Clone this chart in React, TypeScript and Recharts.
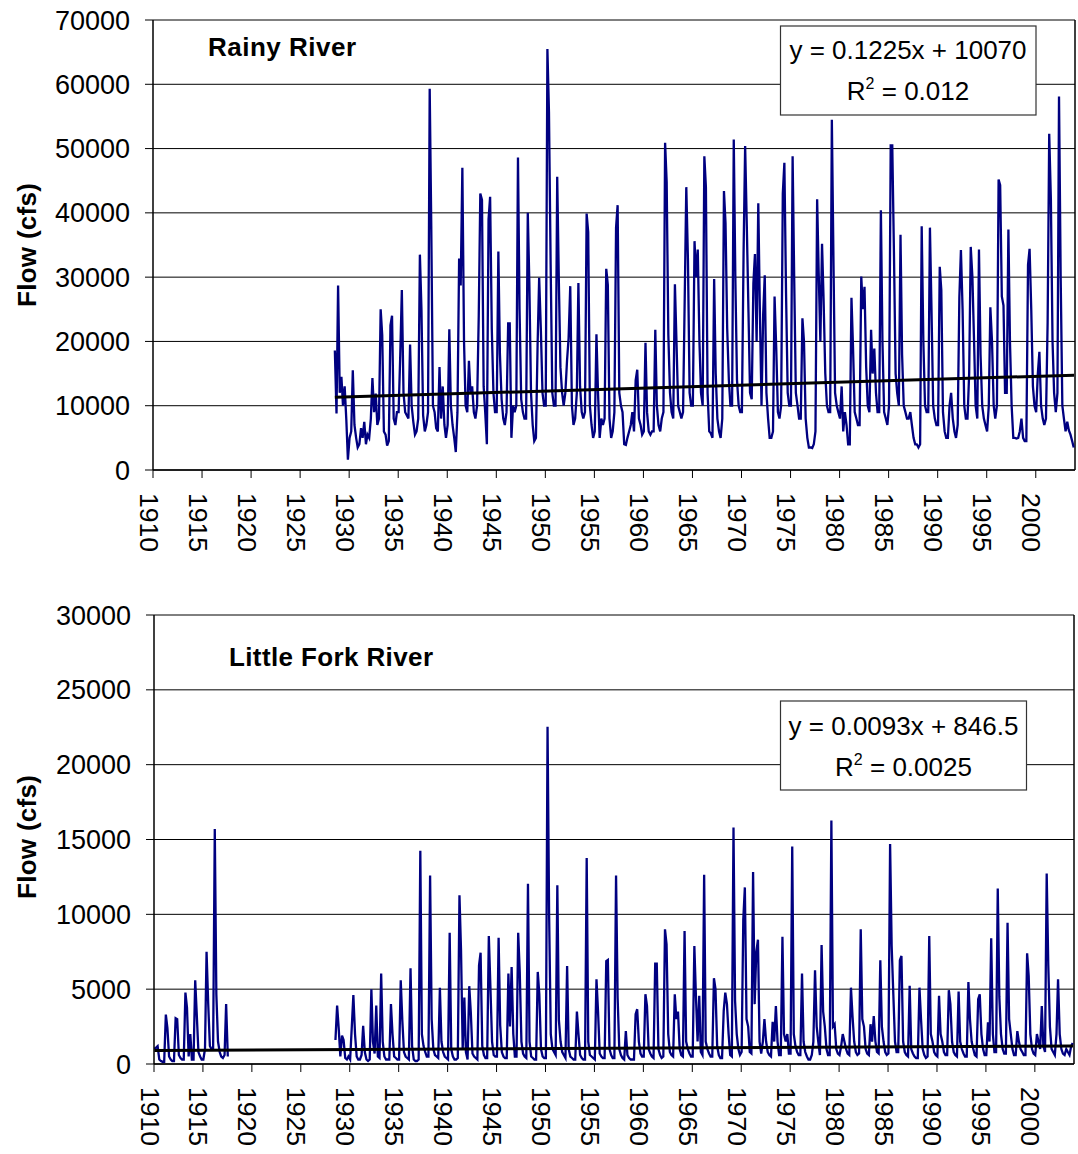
import React from 'react'
import { LineChart, Line, XAxis, YAxis, CartesianGrid, ReferenceLine } from 'recharts'

// monthly flow is sampled every two months: Jan, Mar, May, Jul, Sep, Nov
const SAMPLE_OFFSETS = [0.04, 0.21, 0.37, 0.54, 0.71, 0.87]
const YEAR_TICKS = [1910, 1915, 1920, 1925, 1930, 1935, 1940, 1945, 1950, 1955, 1960, 1965, 1970, 1975, 1980, 1985, 1990, 1995, 2000]
const RAINY_TICKS = [0, 10000, 20000, 30000, 40000, 50000, 60000, 70000]
const LITTLE_FORK_TICKS = [0, 5000, 10000, 15000, 20000, 25000, 30000]

type Row = (number | null)[]

// Rainy River, one row per year (cfs)
const rainy1920s: Row[] = [
  [null, null, null, 18600, 8800, 28700],
  [12000, 14500, 10000, 13000, 7800, 1600],
]
const rainy1930s: Row[] = [
  [5000, 6000, 15500, 7000, 5000, 3500],
  [4000, 6500, 5000, 7500, 4000, 5500],
  [5000, 8000, 14300, 9000, 11900, 7000],
  [8000, 25000, 21000, 6000, 5500, 3800],
  [4500, 22500, 24000, 8000, 7000, 9000],
  [9000, 18000, 28000, 12000, 9000, 8500],
  [8000, 19500, 10000, 7500, 5500, 6000],
  [8000, 33500, 25000, 8500, 6000, 7000],
  [9000, 59300, 38000, 10000, 9000, 6500],
  [6000, 16000, 8000, 13000, 7000, 5000],
]
const rainy1940s: Row[] = [
  [7000, 21900, 10000, 7000, 5000, 2800],
  [9000, 32900, 28700, 47000, 20000, 10000],
  [9000, 17000, 12000, 13000, 9000, 8000],
  [10000, 24000, 43000, 42000, 13000, 9000],
  [4000, 39000, 42500, 22000, 12000, 9000],
  [9000, 34000, 18000, 11000, 8000, 7000],
  [9000, 22800, 22800, 5000, 10000, 9000],
  [10000, 48600, 25000, 11000, 9000, 8000],
  [8000, 40000, 29000, 12000, 7000, 4500],
  [5000, 19400, 29900, 22000, 12000, 10000],
]
const rainy1950s: Row[] = [
  [10000, 65500, 55700, 32000, 12000, 10000],
  [10000, 45600, 30000, 16000, 12000, 10000],
  [12000, 17000, 20500, 28600, 10000, 7000],
  [8000, 12000, 29100, 13000, 9000, 8000],
  [9000, 39900, 37000, 10000, 7000, 5000],
  [6000, 21100, 12000, 5000, 8000, 7000],
  [8000, 31300, 28800, 8000, 5000, 6000],
  [9000, 37700, 41200, 12000, 10000, 9000],
  [4000, 3900, 5000, 6000, 7000, 9000],
  [6000, 14000, 15600, 8000, 7000, 5500],
]
const rainy1960s: Row[] = [
  [6000, 19800, 9000, 6000, 5500, 6000],
  [6000, 21800, 10000, 7000, 6000, 8000],
  [9000, 50900, 44800, 21000, 12000, 9000],
  [8000, 28900, 20000, 10000, 9000, 8000],
  [9000, 26700, 44000, 32600, 12000, 10000],
  [10000, 35600, 30000, 34300, 20000, 12000],
  [10000, 48800, 44000, 12000, 6000, 5700],
  [5000, 29700, 15000, 8000, 6000, 5000],
  [8000, 43400, 38400, 22000, 14000, 10000],
  [10000, 51400, 30000, 14000, 10000, 9000],
]
const rainy1970s: Row[] = [
  [9000, 33700, 50400, 38000, 24600, 12000],
  [11000, 29000, 33600, 20000, 41500, 25000],
  [10000, 24300, 30300, 12000, 8000, 5000],
  [5000, 6000, 27000, 19000, 9000, 8000],
  [10000, 43000, 47800, 27500, 12000, 10000],
  [10000, 48800, 30000, 12000, 10000, 8000],
  [8000, 23600, 20000, 8000, 5000, 3500],
  [3500, 3400, 4000, 6000, 42100, 30600],
  [20000, 35200, 26400, 15000, 10000, 9000],
  [9000, 54500, 33200, 12000, 10000, 9000],
]
const rainy1980s: Row[] = [
  [8000, 13000, 6000, 9000, 7000, 4000],
  [4000, 26800, 19000, 9000, 8000, 7000],
  [7000, 30100, 25000, 28500, 16000, 10000],
  [9000, 21800, 15000, 18900, 12000, 9000],
  [9000, 40400, 20000, 9000, 8000, 7000],
  [10000, 50500, 50500, 34000, 15000, 12000],
  [10000, 36600, 18000, 10000, 9000, 8000],
  [8000, 9000, 7000, 5000, 4000, 4000],
  [3500, 4000, 37900, 20000, 10000, 9000],
  [9000, 37700, 25000, 10000, 8000, 7000],
]
const rainy1990s: Row[] = [
  [7000, 31600, 28000, 9000, 6000, 5000],
  [5000, 10000, 12000, 8000, 6000, 5000],
  [7000, 26900, 34200, 25000, 10000, 8000],
  [8000, 15000, 34700, 30000, 20000, 10000],
  [8000, 34300, 18000, 10000, 8000, 7000],
  [6000, 10000, 25300, 20000, 10000, 8000],
  [10000, 45200, 44300, 27000, 25600, 12000],
  [12000, 37400, 20000, 10000, 5000, 5000],
  [4900, 5000, 6000, 8000, 5000, 4500],
  [4500, 31900, 34400, 25000, 13000, 10000],
]
const rainy2000s: Row[] = [
  [9000, 15000, 18400, 10000, 8000, 7000],
  [8000, 23000, 52300, 42200, 20000, 12000],
  [9000, 12000, 58100, 30000, 10000, 8000],
  [6000, 7500, 6200, 5500, 4500, 3500],
]

// Little Fork River, one row per year (cfs)
const littleFork1910s: Row[] = [
  [1000, 1100, 1200, 300, 200, 150],
  [150, 3300, 2400, 500, 300, 200],
  [200, 3060, 3000, 600, 400, 300],
  [300, 4770, 3770, 500, 2000, 300],
  [300, 5600, 3300, 800, 500, 300],
  [300, 1000, 7500, 4000, 1200, 1000],
  [1000, 15700, 4660, 1500, 800, 500],
  [400, 600, 4000, 500, null, null],
]
const littleFork1920s: Row[] = [
  [null, null, null, 1600, 3900, 2400],
  [500, 1900, 1600, 400, 300, 500],
]
const littleFork1930s: Row[] = [
  [300, 2500, 4600, 2000, 500, 300],
  [300, 600, 2550, 800, 300, 200],
  [300, 5000, 1500, 700, 3900, 500],
  [400, 6040, 1500, 500, 300, 300],
  [300, 4000, 2000, 500, 400, 300],
  [300, 5600, 2930, 800, 500, 400],
  [300, 6400, 1200, 300, 200, 200],
  [300, 14250, 2000, 1200, 800, 500],
  [500, 12600, 3000, 1000, 600, 500],
  [400, 5100, 1500, 800, 500, 400],
]
const littleFork1940s: Row[] = [
  [300, 8770, 1000, 500, 300, 300],
  [400, 11280, 7600, 1000, 4440, 800],
  [300, 5200, 3440, 700, 500, 400],
  [300, 6600, 7440, 1200, 600, 400],
  [400, 8550, 5200, 1500, 600, 500],
  [500, 8440, 2600, 800, 500, 400],
  [400, 6040, 2500, 6480, 2000, 500],
  [500, 8770, 6150, 1500, 700, 500],
  [400, 12050, 1500, 500, 400, 300],
  [300, 6150, 4660, 1000, 500, 400],
]
const littleFork1950s: Row[] = [
  [400, 22530, 10000, 2000, 1000, 800],
  [600, 11940, 2930, 1500, 800, 600],
  [400, 6550, 1000, 500, 400, 300],
  [300, 3500, 2000, 600, 400, 300],
  [300, 13760, 1500, 600, 500, 400],
  [300, 5660, 3500, 700, 500, 400],
  [400, 6880, 6950, 1000, 600, 400],
  [400, 12600, 4440, 1000, 600, 400],
  [300, 2200, 600, 400, 300, 300],
  [300, 3330, 3660, 1500, 700, 500],
]
const littleFork1960s: Row[] = [
  [500, 4660, 3880, 1000, 700, 500],
  [400, 6700, 6700, 1000, 600, 400],
  [500, 9000, 8000, 2000, 800, 600],
  [500, 4660, 3000, 3500, 1000, 600],
  [500, 8880, 1500, 1000, 700, 500],
  [500, 7880, 4550, 1500, 4550, 800],
  [600, 12650, 1500, 1000, 700, 500],
  [500, 5730, 5000, 1200, 600, 400],
  [400, 3550, 4770, 4000, 2000, 600],
  [500, 15800, 4220, 2000, 1000, 600],
]
const littleFork1970s: Row[] = [
  [800, 9660, 11800, 3000, 2500, 800],
  [700, 12830, 4000, 7500, 8300, 1500],
  [700, 1500, 3000, 1500, 800, 600],
  [500, 2820, 1500, 3880, 1500, 600],
  [600, 8500, 2000, 1500, 2000, 700],
  [700, 14540, 2000, 1200, 800, 600],
  [600, 6040, 1500, 800, 500, 300],
  [300, 600, 1500, 6260, 2500, 1500],
  [600, 7950, 3500, 2500, 1000, 600],
  [600, 16270, 2500, 2660, 1000, 700],
]
const littleFork1980s: Row[] = [
  [600, 1200, 2000, 1500, 1000, 700],
  [600, 5100, 3200, 1500, 800, 600],
  [700, 9000, 3000, 2500, 1000, 700],
  [600, 2660, 1500, 3200, 1500, 800],
  [700, 6930, 2500, 1500, 800, 600],
  [700, 14700, 7880, 4660, 1500, 800],
  [800, 6930, 7220, 1500, 800, 600],
  [500, 5220, 1000, 700, 500, 400],
  [400, 5100, 3000, 1000, 600, 400],
  [500, 8550, 2000, 1500, 800, 600],
]
const littleFork1990s: Row[] = [
  [500, 4550, 2000, 1500, 800, 600],
  [600, 4930, 4000, 1500, 800, 600],
  [500, 4840, 1500, 1000, 700, 500],
  [500, 5480, 3000, 1500, 1000, 600],
  [500, 4330, 4660, 2000, 1000, 600],
  [600, 2780, 1500, 8400, 2000, 800],
  [800, 11720, 4500, 2000, 1000, 700],
  [700, 9440, 3000, 2000, 1000, 600],
  [600, 2200, 1500, 1000, 800, 600],
  [600, 7400, 5880, 2000, 1000, 700],
]
const littleFork2000s: Row[] = [
  [600, 2000, 1500, 1000, 3880, 1200],
  [800, 12720, 6660, 2500, 1000, 800],
  [600, 2000, 5660, 2000, 1000, 700],
  [600, 1000, 800, 600, 1200, 1400],
]

// linear trendlines (end points of the fitted lines)
const rainyTrend = [{ t: 1928.54, flow: 11300 }, { t: 2003.9, flow: 14750 }]
const littleForkTrend = [{ t: 1910.04, flow: 900 }, { t: 2003.9, flow: 1200 }]

type Point = { t: number; flow: number | null }

function rowsToPoints(startYear: number, rows: Row[]): Point[] {
  const pts: Point[] = []
  rows.forEach((row, i) => {
    row.forEach((v, j) => {
      if (v !== null) pts.push({ t: startYear + i + SAMPLE_OFFSETS[j], flow: v })
    })
  })
  return pts
}

const rainySeries: Point[] = [
  ...rowsToPoints(1928, rainy1920s),
  ...rowsToPoints(1930, rainy1930s),
  ...rowsToPoints(1940, rainy1940s),
  ...rowsToPoints(1950, rainy1950s),
  ...rowsToPoints(1960, rainy1960s),
  ...rowsToPoints(1970, rainy1970s),
  ...rowsToPoints(1980, rainy1980s),
  ...rowsToPoints(1990, rainy1990s),
  ...rowsToPoints(2000, rainy2000s),
]

const littleForkSeries: Point[] = [
  ...rowsToPoints(1910, littleFork1910s),
  { t: 1923, flow: null }, // no record 1918-1928
  ...rowsToPoints(1928, littleFork1920s),
  ...rowsToPoints(1930, littleFork1930s),
  ...rowsToPoints(1940, littleFork1940s),
  ...rowsToPoints(1950, littleFork1950s),
  ...rowsToPoints(1960, littleFork1960s),
  ...rowsToPoints(1970, littleFork1970s),
  ...rowsToPoints(1980, littleFork1980s),
  ...rowsToPoints(1990, littleFork1990s),
  ...rowsToPoints(2000, littleFork2000s),
]

const FONT = '"Liberation Sans", Arial, Helvetica, sans-serif'
const NAVY = '#000080'

function YearTick(props: any) {
  const { x, y, payload } = props
  return (
    <text
      x={x}
      y={y}
      dy={13.5}
      transform={`rotate(90, ${x}, ${y})`}
      textAnchor="start"
      fontSize={26.5}
      fontFamily={FONT}
      fill="#000"
    >
      {payload.value}
    </text>
  )
}

interface PanelProps {
  height: number
  margin: { top: number; right: number; bottom: number; left: number }
  yAxisWidth: number
  yMax: number
  yTicks: number[]
  series: Point[]
  trend: Point[]
}

function RiverPanel({ height, margin, yAxisWidth, yMax, yTicks, series, trend }: PanelProps) {
  return (
    <LineChart width={1078} height={height} margin={margin}>
      <CartesianGrid vertical={false} stroke="#000" strokeWidth={1} />
      <XAxis
        dataKey="t"
        type="number"
        domain={[1910, 2004]}
        ticks={YEAR_TICKS}
        interval={0}
        height={90}
        tickSize={8}
        tickMargin={15}
        tick={<YearTick />}
        axisLine={{ stroke: '#000', strokeWidth: 1.5 }}
        tickLine={{ stroke: '#000' }}
        allowDataOverflow
      />
      <YAxis
        type="number"
        domain={[0, yMax]}
        ticks={yTicks}
        interval={0}
        width={yAxisWidth}
        tickSize={8}
        tickMargin={15}
        tick={{ fontSize: 27, fontFamily: FONT, fill: '#000' }}
        axisLine={{ stroke: '#000', strokeWidth: 1.5 }}
        tickLine={{ stroke: '#000' }}
        allowDataOverflow
      />
      <ReferenceLine x={2004} stroke="#000" strokeWidth={1.5} />
      <Line
        data={series}
        dataKey="flow"
        type="linear"
        stroke={NAVY}
        strokeWidth={2.3}
        dot={false}
        activeDot={false}
        isAnimationActive={false}
      />
      <Line
        data={trend}
        dataKey="flow"
        type="linear"
        stroke="#000"
        strokeWidth={3}
        dot={false}
        activeDot={false}
        isAnimationActive={false}
      />
    </LineChart>
  )
}

function EquationBox({ x, y, w, h, cx, line1, r2, base1, base2 }: any) {
  return (
    <g fontFamily={FONT} fontSize={26} fill="#000">
      <rect x={x} y={y} width={w} height={h} fill="#fff" stroke="#333" strokeWidth={1.2} />
      <text x={cx} y={base1} textAnchor="middle">{line1}</text>
      <text x={cx} y={base2} textAnchor="middle">
        R<tspan fontSize={16} dy={-11}>2</tspan>
        <tspan dy={11}> = {r2}</tspan>
      </text>
    </g>
  )
}

export default function App() {
  return (
    <div style={{ position: 'absolute', left: 0, top: 0, width: 1078, height: 1154, background: '#fff' }}>
      <div style={{ position: 'absolute', left: 0, top: 0 }}>
        <RiverPanel
          height={560}
          margin={{ top: 20, right: 3, bottom: 0, left: 0 }}
          yAxisWidth={153}
          yMax={70000}
          yTicks={RAINY_TICKS}
          series={rainySeries}
          trend={rainyTrend}
        />
      </div>
      <div style={{ position: 'absolute', left: 0, top: 560 }}>
        <RiverPanel
          height={594}
          margin={{ top: 55, right: 4, bottom: 0, left: 0 }}
          yAxisWidth={154}
          yMax={30000}
          yTicks={LITTLE_FORK_TICKS}
          series={littleForkSeries}
          trend={littleForkTrend}
        />
      </div>
      <svg
        width={1078}
        height={1154}
        style={{ position: 'absolute', left: 0, top: 0, pointerEvents: 'none' }}
      >
        <g fontFamily={FONT} fontWeight="bold" fontSize={26} fill="#000">
          <text x={208} y={56} textLength={148}>Rainy River</text>
          <text x={229} y={666} textLength={204}>Little Fork River</text>
          <text transform="translate(36,245) rotate(-90)" textAnchor="middle" textLength={124}>Flow (cfs)</text>
          <text transform="translate(36,837) rotate(-90)" textAnchor="middle" textLength={124}>Flow (cfs)</text>
        </g>
        <EquationBox x={780.5} y={26} w={255.5} h={89} cx={908} line1="y = 0.1225x + 10070" r2="0.012" base1={58.5} base2={100} />
        <EquationBox x={780.5} y={701} w={246} h={89} cx={903.5} line1="y = 0.0093x + 846.5" r2="0.0025" base1={735} base2={776} />
      </svg>
    </div>
  )
}
